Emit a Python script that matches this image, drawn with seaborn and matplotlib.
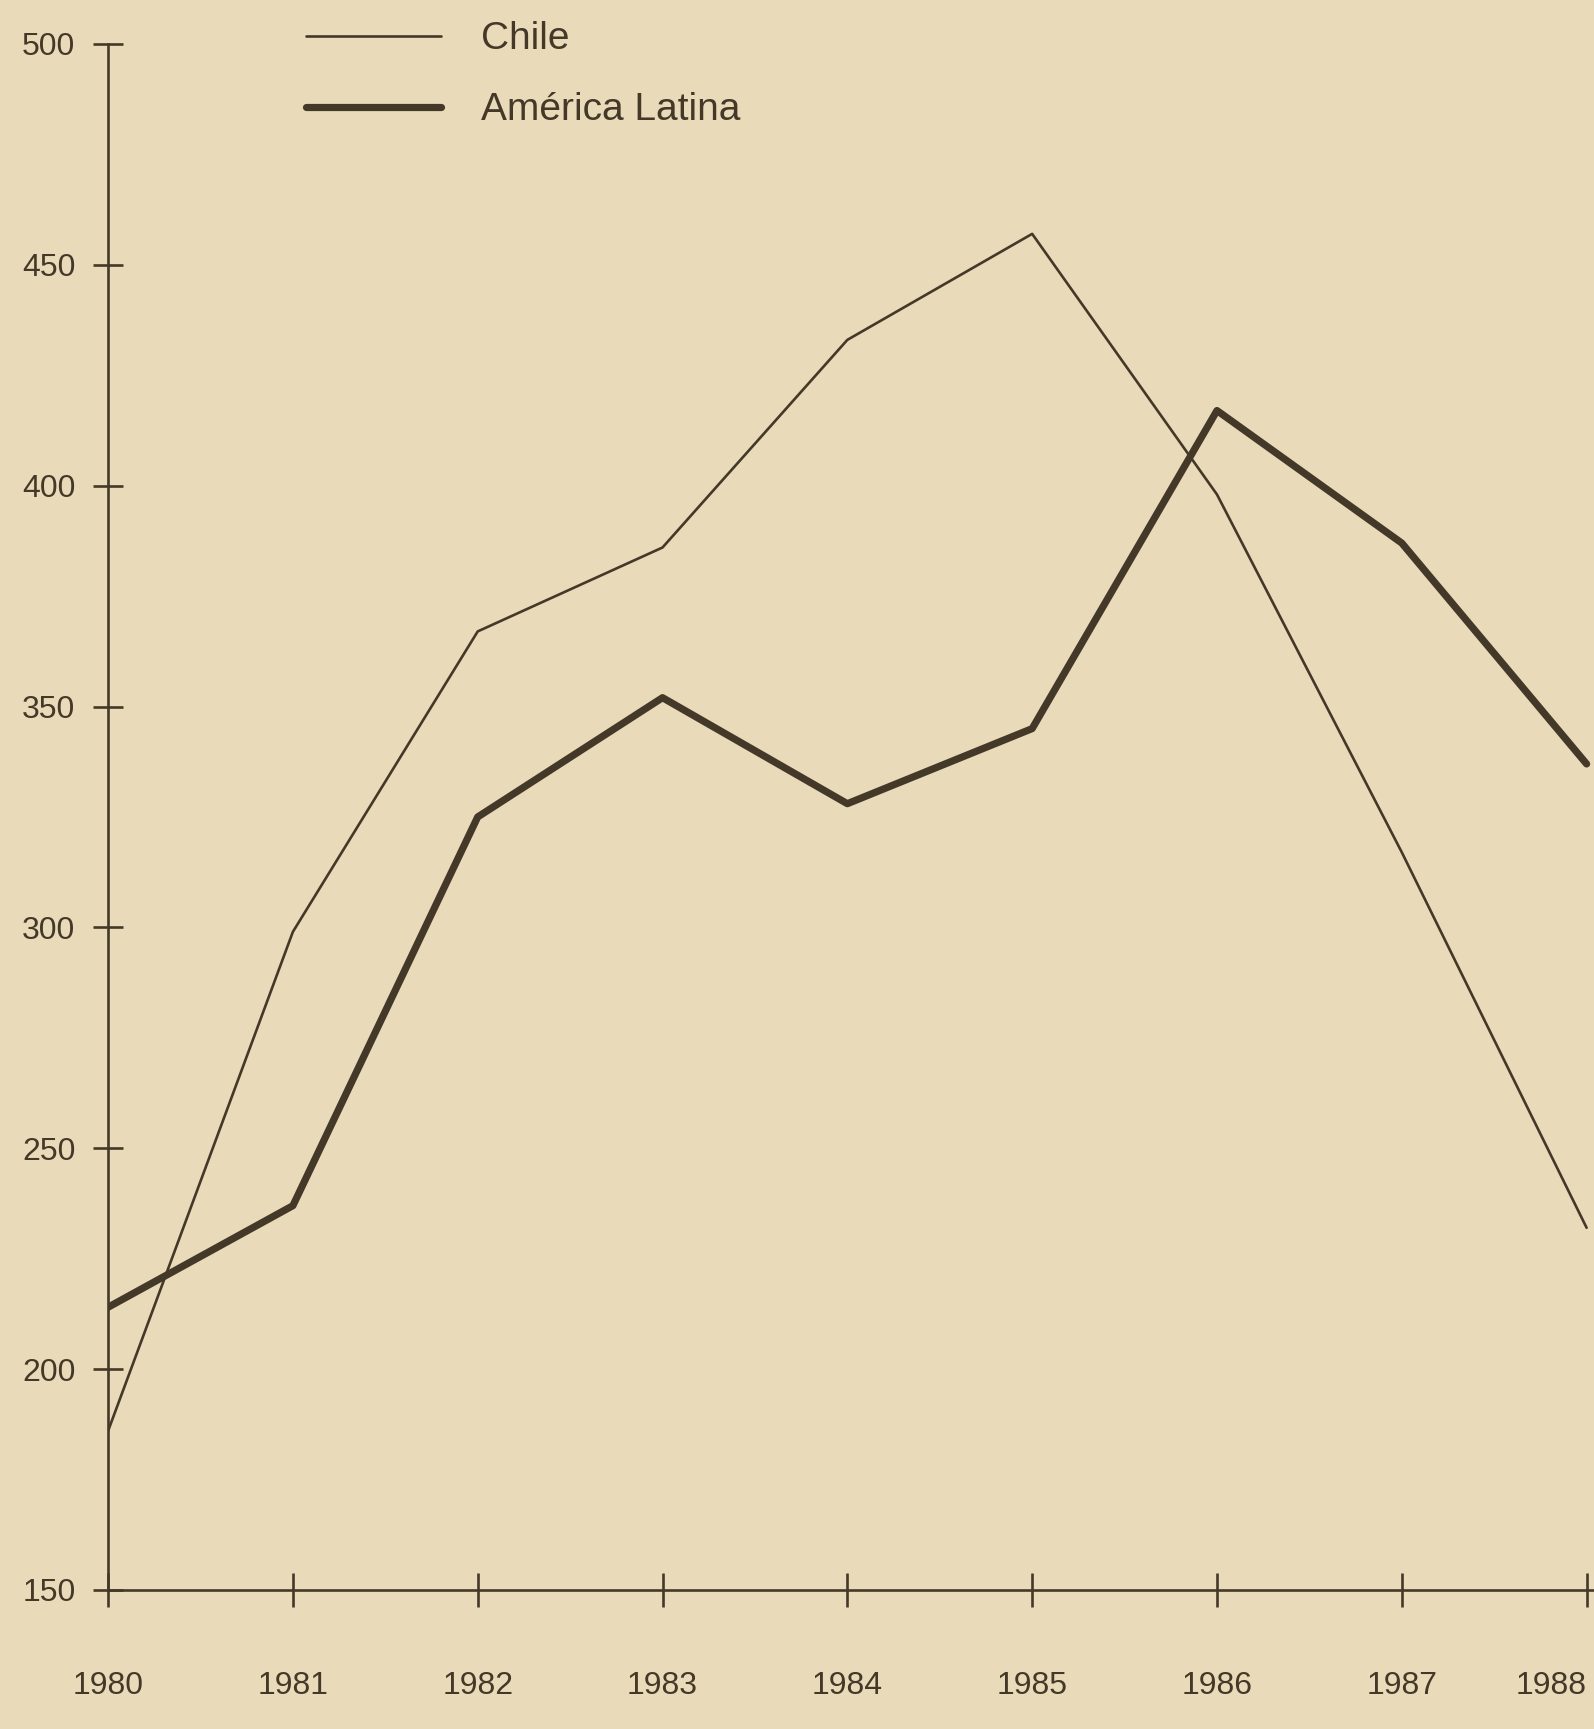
import matplotlib
matplotlib.use("Agg")
import matplotlib.pyplot as plt
import seaborn as sns
import pandas as pd

years = [1980, 1981, 1982, 1983, 1984, 1985, 1986, 1987, 1988]
chile = [186, 299, 367, 386, 433, 457, 398, 317, 232]
america_latina = [214, 237, 325, 352, 328, 345, 417, 387, 337]
y_ticks = [150, 200, 250, 300, 350, 400, 450, 500]

BG = "#E9DBBA"
INK = "#443928"

sns.set_theme(style="white")
plt.rcParams["font.family"] = ["Liberation Sans", "DejaVu Sans"]

df = pd.DataFrame({
    "year": years * 2,
    "value": chile + america_latina,
    "serie": ["Chile"] * len(years) + ["América Latina"] * len(years),
})

fig = plt.figure(figsize=(15.94, 17.29), dpi=100, facecolor=BG)
ax = fig.add_axes([0.0678, 0.0804, 0.9322, 0.8942])
ax.set_facecolor(BG)

sns.lineplot(data=df[df.serie == "Chile"], x="year", y="value", ax=ax,
             color=INK, linewidth=1.9, label="Chile")
sns.lineplot(data=df[df.serie == "América Latina"], x="year", y="value", ax=ax,
             color=INK, linewidth=5.2, label="América Latina")

ax.set_xlim(1980, 1988.04)
ax.set_ylim(150, 500)
ax.set_xticks(years)
ax.set_xticklabels([str(y) for y in years])
ax.set_yticks(y_ticks)
ax.set_xlabel("")
ax.set_ylabel("")

for s in ["top", "right"]:
    ax.spines[s].set_visible(False)
for s in ["left", "bottom"]:
    ax.spines[s].set_color(INK)
    ax.spines[s].set_linewidth(1.9)

ax.tick_params(axis="x", bottom=True, direction="inout", length=25, width=1.9,
               color=INK, labelsize=23, labelcolor=INK, pad=46)
ax.tick_params(axis="y", left=True, direction="inout", length=21, width=1.9,
               color=INK, labelsize=23, labelcolor=INK, pad=13)

last = ax.get_xticklabels()[-1]
last.set_horizontalalignment("right")

leg = ax.legend(loc="upper left", bbox_to_anchor=(0.192, 0.9876),
                bbox_transform=fig.transFigure, frameon=False, fontsize=28,
                handlelength=3.46, handletextpad=1.05, labelspacing=0.9,
                borderpad=0, borderaxespad=0)
for t in leg.get_texts():
    t.set_color(INK)

fig.savefig("out.png", dpi=100, facecolor=BG)
